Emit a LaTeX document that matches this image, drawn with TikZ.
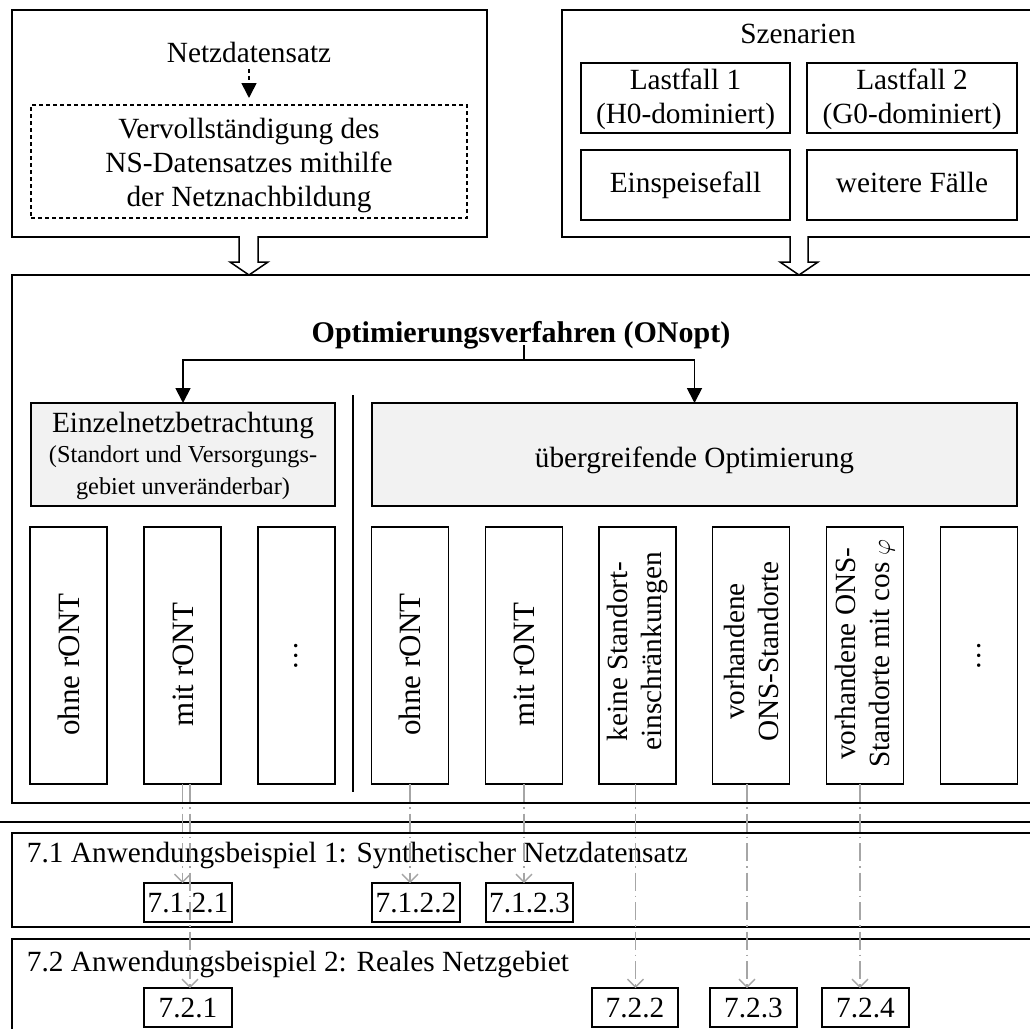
\documentclass[tikz,border=0pt]{standalone}
\usepackage{fontspec}
\setmainfont{Liberation Serif}
\usetikzlibrary{arrows.meta}
\begin{document}
\begin{tikzpicture}[x=1pt,y=-1pt,
  every node/.style={inner sep=0pt, outer sep=0pt, align=center, font=\fontsize{29.3}{34}\selectfont},
  sl/.style={text height=20pt, text depth=6pt},
  big/.style={font=\fontsize{31}{34}\selectfont, text height=21pt, text depth=0pt},
  box/.style={draw, line width=1.8pt},
  greybox/.style={draw, line width=1.8pt, fill=black!5},
  vbox/.style={draw, line width=1.8pt, minimum width=77pt, minimum height=257pt},
  numbox/.style={draw, line width=1.6pt, minimum height=39pt, text height=20pt, text depth=1pt},
  dbox/.style={draw, line width=1.5pt, dash pattern=on 4pt off 3pt},
  arr/.style={line width=1.8pt, -{Triangle[length=15pt,width=15pt]}},
  darr/.style={line width=1.6pt, dash pattern=on 4pt off 3pt, -{Triangle[length=15pt,width=15pt]}},
  hollow/.style={line width=1.5pt, fill=white},
  garr/.style={draw=black!35, line width=1.3pt, dash pattern=on 18pt off 5pt on 1.5pt off 5pt,
    -{Straight Barb[length=8pt,width=16pt,line width=1.3pt]}}
]
\clip (0,0) rectangle (1030,1028);
\fill[white] (0,0) rectangle (1030,1028);

% ---------- top left
\node[box, minimum width=475pt, minimum height=227pt] (tl) at (249.5,123.5) {};
\node[sl] (ntz) at (249,55) {Netzdatensatz};
\node[dbox, minimum width=436pt, minimum height=113pt] (db) at (249,161.5) {};
\node (dbt) at (249,165) {Vervollständigung des\\NS-Datensatzes mithilfe\\der Netznachbildung};
\draw[darr, shorten <=1pt, shorten >=7pt] (ntz.south) -- (db.north);

% ---------- top right
\node[box, minimum width=478pt, minimum height=227pt] (tr) at (801,123.5) {};
\node[sl] (sz) at (798,36) {Szenarien};
\node[box, minimum width=209pt, minimum height=70pt] (lf1) at (685.5,98) {\strut Lastfall 1\\(H0-dominiert)};
\node[box, minimum width=210pt, minimum height=70pt] (lf2) at (912,98) {\strut Lastfall 2\\(G0-dominiert)};
\node[box, sl, minimum width=209pt, minimum height=70pt] (ef) at (685.5,185) {Einspeisefall};
\node[box, sl, minimum width=210pt, minimum height=70pt] (wf) at (912,185) {weitere Fälle};

% ---------- main box
\node[box, minimum width=1028pt, minimum height=528pt] (mb) at (526,539) {};

% hollow arrows
\draw[hollow] (239,236) -- (239,262) -- (230,262) -- (249,275) -- (268,262) -- (258,262) -- (258,236);
\draw[hollow] (790,236) -- (790,262) -- (780,262) -- (799,275) -- (818,262) -- (808,262) -- (808,236);

\node[font=\fontsize{30}{34}\selectfont\bfseries, text height=20pt, text depth=6pt] (title) at (521,335) {Optimierungsverfahren (ONopt)};

\node[greybox, minimum width=304pt, minimum height=103pt] (gL) at (183,454.5) {};
\node (gLt) at (183,456) {Einzelnetzbetrachtung\\[-4pt]{\fontsize{24.3}{30}\selectfont (Standort und Versorgungs-}\\[-2pt]{\fontsize{24.3}{30}\selectfont gebiet unveränderbar)}};
\node[greybox, text height=26pt, text depth=0pt, minimum width=645pt, minimum height=103pt] (gR) at (694.5,454.5) {übergreifende Optimierung};

\coordinate (stem) at (524,345);
\coordinate (br) at (524,360);
\draw[line width=1.8pt] (stem) -- (br);
\draw[arr] (br) -| (gL.north);
\draw[arr] (br) -| (gR.north);

% separator
\draw[line width=1.8pt] (353,395) -- (353,792);

% vertical boxes
\node[vbox] (a1) at (68.5,655.5) {};
\node[vbox] (a2) at (182.5,655.5) {};
\node[vbox] (a3) at (296.5,655.5) {};
\node[vbox] (b1) at (410,655.5) {};
\node[vbox] (b2) at (524,655.5) {};
\node[vbox] (b3) at (637.5,655.5) {};
\node[vbox] (b4) at (751,655.5) {};
\node[vbox] (b5) at (865,655.5) {};
\node[vbox] (b6) at (979,655.5) {};
\node[rotate=90, big] (a1t) at ([yshift=-9pt]a1.center) {ohne rONT};
\node[rotate=90, big] (a2t) at ([yshift=-9pt]a2.center) {mit rONT};
\node[rotate=90] (a3t) at (a3) {\dots};
\node[rotate=90, big] (b1t) at ([yshift=-9pt]b1.center) {ohne rONT};
\node[rotate=90, big] (b2t) at ([yshift=-9pt]b2.center) {mit rONT};
\node[rotate=90] (b3t) at ([yshift=4pt]b3.center) {keine Standort-\\einschränkungen};
\node[rotate=90] (b4t) at ([yshift=4pt]b4.center) {vorhandene\\ONS-Standorte};
\node[rotate=90] (b5t) at ([yshift=2pt]b5.center) {vorhandene ONS-\\Standorte mit cos $\varphi$};
\node[rotate=90] (b6t) at (b6) {\dots};

% ---------- lower part
\draw[line width=1.8pt] (-5,822) -- (1040,822);
\node[box, minimum width=1028pt, minimum height=94pt] (s71) at (526,880) {};
\node[box, minimum width=1028pt, minimum height=111pt] (s72) at (526,994.5) {};
\node[anchor=west, sl] (t71) at (27,855) {7.1 Anwendungsbeispiel 1: Synthetischer Netzdatensatz};
\node[anchor=west, sl] (t72) at (27,964) {7.2 Anwendungsbeispiel 2: Reales Netzgebiet};

\node[numbox, minimum width=88pt] (n7121) at (188,902.5) {7.1.2.1};
\node[numbox, minimum width=88pt] (n7122) at (416,902.5) {7.1.2.2};
\node[numbox, minimum width=87pt] (n7123) at (529.5,902.5) {7.1.2.3};
\node[numbox, minimum width=88pt] (n721) at (188,1007.5) {7.2.1};
\node[numbox, minimum width=86pt] (n722) at (635,1007.5) {7.2.2};
\node[numbox, minimum width=87pt] (n723) at (753.5,1007.5) {7.2.3};
\node[numbox, minimum width=87pt] (n724) at (865.5,1007.5) {7.2.4};

% grey dash-dot arrows
\draw[garr] (a2.south) -- (a2.south |- n7121.north);
\draw[garr] ([xshift=7.5pt]a2.south) -- ([xshift=7.5pt]a2.south |- n721.north);
\draw[garr] (b1.south) -- (b1.south |- n7122.north);
\draw[garr] (b2.south) -- (b2.south |- n7123.north);
\draw[garr] ([xshift=-2pt]b3.south) -- ([xshift=-2pt]b3.south |- n722.north);
\draw[garr] ([xshift=-4pt]b4.south) -- ([xshift=-4pt]b4.south |- n723.north);
\draw[garr] ([xshift=-5pt]b5.south) -- ([xshift=-5pt]b5.south |- n724.north);
\end{tikzpicture}
\end{document}
